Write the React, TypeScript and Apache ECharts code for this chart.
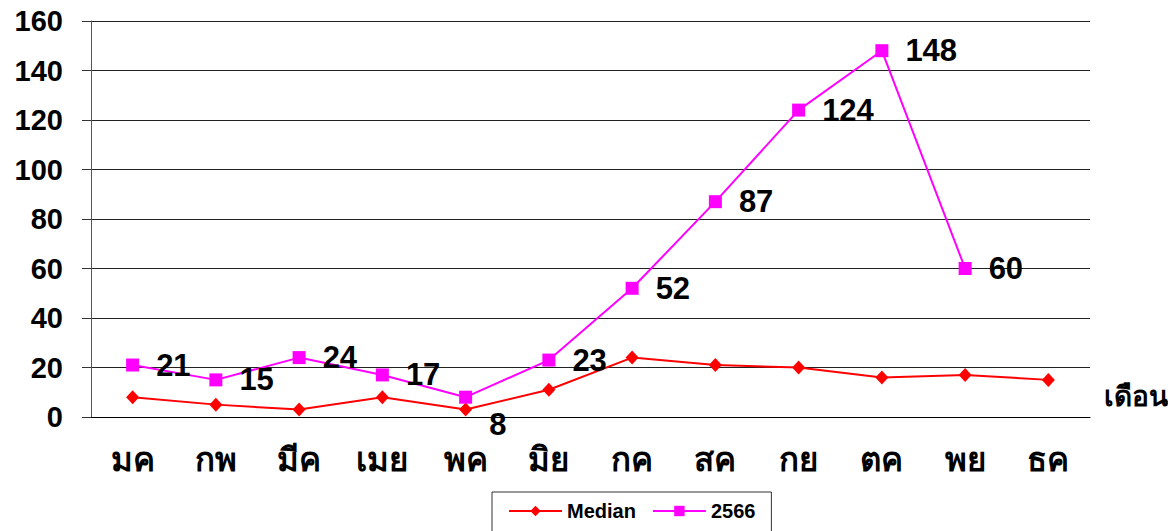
import React, { useEffect, useRef } from "react";
import * as echarts from "echarts";

const months = ["มค", "กพ", "มีค", "เมย", "พค", "มิย", "กค", "สค", "กย", "ตค", "พย", "ธค"];
const medianValues = [8, 5, 3, 8, 3, 11, 24, 21, 20, 16, 17, 15];
const values2566 = [21, 15, 24, 17, 8, 23, 52, 87, 124, 148, 60];
const yTicks = { min: 0, max: 160, interval: 20 };
const xAxisTitle = "เดือน";

const FONT = "'Liberation Sans', Arial, 'Noto Sans', sans-serif";

export default function App() {
  const ref = useRef<HTMLDivElement>(null);
  useEffect(() => {
    document.body.style.margin = "0";
    const chart = echarts.init(ref.current!, null, { renderer: "svg" });
    chart.setOption({
      animation: false,
      backgroundColor: "#ffffff",
      textStyle: { fontFamily: FONT },
      grid: { left: 91, right: 78, top: 21, bottom: 114, containLabel: false },
      legend: {
        left: 492,
        top: 492,
        padding: [9, 16, 20, 16],
        borderColor: "#333",
        borderWidth: 1,
        itemWidth: 53,
        itemHeight: 13,
        itemGap: 16,
        textStyle: { fontSize: 20, fontWeight: "bold", color: "#000", fontFamily: FONT },
        data: ["Median", "2566"],
      },
      xAxis: {
        type: "category",
        data: months,
        boundaryGap: true,
        axisLine: { lineStyle: { color: "#000", width: 1 } },
        axisTick: { alignWithLabel: true, length: 7, lineStyle: { color: "#666" } },
        axisLabel: { fontSize: 33, fontWeight: "bold", color: "#000", margin: 26, fontFamily: FONT },
        splitLine: { show: false },
      },
      yAxis: {
        type: "value",
        min: yTicks.min,
        max: yTicks.max,
        interval: yTicks.interval,
        axisLine: { show: true, lineStyle: { color: "#555", width: 1 } },
        axisTick: { show: true, inside: false, length: 9, lineStyle: { color: "#333" } },
        axisLabel: { fontSize: 29, fontWeight: "bold", color: "#000", margin: 28, fontFamily: FONT },
        splitLine: { show: true, lineStyle: { color: "#222", width: 1 } },
      },
      graphic: [
        {
          type: "text",
          left: 1104,
          top: 382,
          style: { text: xAxisTitle, fontSize: 28, fontWeight: "bold", fill: "#000", fontFamily: FONT },
        },
      ],
      series: [
        {
          name: "Median",
          type: "line",
          data: medianValues,
          symbol: "diamond",
          symbolSize: [13, 14],
          lineStyle: { color: "#ff0000", width: 2 },
          itemStyle: { color: "#ff0000" },
          z: 3,
        },
        {
          name: "2566",
          type: "line",
          data: values2566.map((v, i) =>
            i === 4 ? { value: v, label: { offset: [2, 27] } } : v
          ),
          symbol: "rect",
          symbolSize: 13,
          lineStyle: { color: "#ff00ff", width: 2 },
          itemStyle: { color: "#ff00ff" },
          label: {
            show: true,
            position: "right",
            distance: 15,
            offset: [2, 0],
            fontSize: 31,
            fontWeight: "bold",
            color: "#000",
            fontFamily: FONT,
          },
          z: 4,
        },
      ],
    });
    return () => chart.dispose();
  }, []);
  return <div ref={ref} style={{ width: 1168, height: 531 }} />;
}
